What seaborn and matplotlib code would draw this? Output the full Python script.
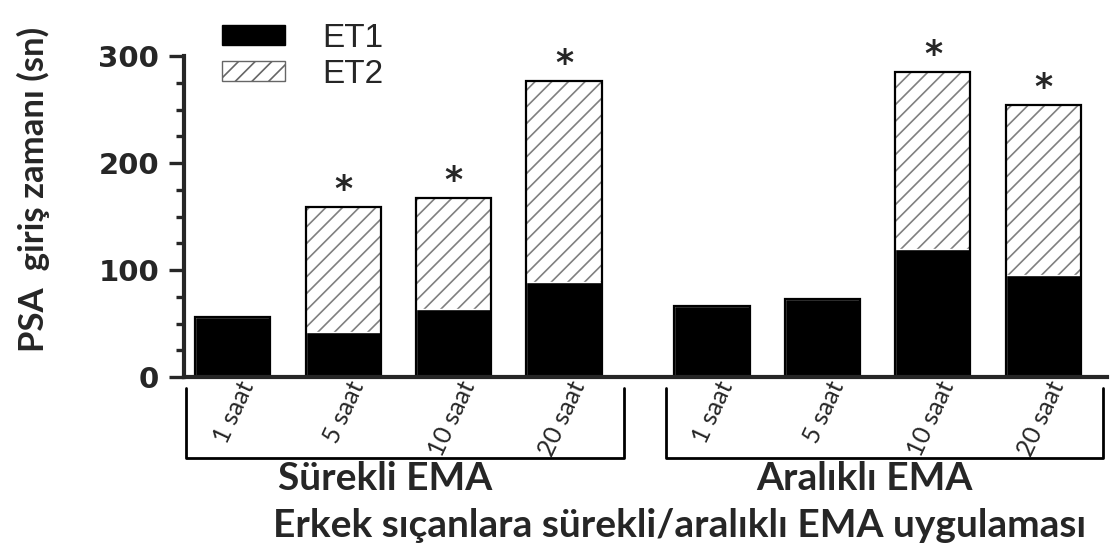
import pandas as pd
import matplotlib
matplotlib.use('Agg')
import matplotlib.pyplot as plt
from matplotlib.patches import Patch
from matplotlib.ticker import MultipleLocator
from matplotlib.transforms import blended_transform_factory, ScaledTranslation
import seaborn as sns

# values (seconds)
groups = ['Sürekli EMA', 'Aralıklı EMA']
durations = ['1 saat', '5 saat', '10 saat', '20 saat']
et1 = [56, 42, 64, 89, 66, 73, 120, 95]
total = [56, 159, 167, 277, 66, 73, 285, 254]
signif = [False, True, True, True, False, False, True, True]

group_gap = 4.34
pos = [g * group_gap + i for g in range(len(groups)) for i in range(len(durations))]
df = pd.DataFrame({'pos': pos, 'et1': et1, 'total': total,
                   'label': durations * len(groups)})

sns.set_style('ticks')
plt.rcParams['font.family'] = ['Lato', 'DejaVu Sans']
plt.rcParams['hatch.linewidth'] = 1.2

fig = plt.figure(figsize=(11.2, 5.5), dpi=100)
ax = fig.add_axes([0.1643, 0.3145, 0.824, 0.5836])

bw = 0.68
# ET2 part: hatched bar up to the total height
sns.barplot(data=df, x='pos', y='total', native_scale=True, width=bw, color='white',
            edgecolor='0.5', hatch='//', linewidth=0, errorbar=None, ax=ax)
# ET1 part: solid black
sns.barplot(data=df, x='pos', y='et1', native_scale=True, width=bw, color='black',
            saturation=1, errorbar=None, ax=ax)
# black outline round the whole bar
sns.barplot(data=df, x='pos', y='total', native_scale=True, width=bw, fill=False,
            color='black', linewidth=1.6, errorbar=None, ax=ax)

for p, t, s in zip(pos, total, signif):
    if s:
        ax.annotate('*', (p, t), xytext=(0, 0), textcoords='offset points',
                    ha='center', va='bottom', fontsize=25, fontweight='bold',
                    family='DejaVu Sans')

ax.set_xlim(-0.44, 7.915)
ax.set_ylim(0, 300)
ax.set_yticks([0, 100, 200, 300])
ax.yaxis.set_minor_locator(MultipleLocator(25))
ax.set_yticklabels(['0', '100', '200', '300'], fontsize=21, fontweight='bold',
                   family='DejaVu Sans')
ax.tick_params(axis='y', which='major', length=11, width=2.4, pad=7)
ax.tick_params(axis='y', which='minor', length=6, width=2.4)
ax.set_xticks(pos)
ax.set_xticklabels(df['label'], rotation=65, rotation_mode='anchor',
                   ha='right', va='center', fontsize=18)
ax.tick_params(axis='x', length=0, pad=4)
shift = ScaledTranslation(0.15, 0, fig.dpi_scale_trans)
for lab in ax.get_xticklabels():
    lab.set_transform(lab.get_transform() + shift)
ax.set_xlabel('')
ax.set_ylabel('')
sns.despine(ax=ax)
for side in ['left', 'bottom']:
    ax.spines[side].set_linewidth(3)

# brackets under each group
trans = blended_transform_factory(ax.transData, ax.transAxes)
for g, name in enumerate(groups):
    x0 = pos[g * len(durations)] - 0.42
    x1 = pos[(g + 1) * len(durations) - 1] + 0.54
    ax.plot([x0, x0, x1, x1], [-0.034, -0.252, -0.252, -0.034], color='black',
            lw=2, transform=trans, clip_on=False)
    ax.text((x0 + x1) / 2 - 0.18, -0.315, name, transform=trans, ha='center',
            va='center', fontsize=28, fontweight='bold')

fig.text(0.607, 0.045, 'Erkek sıçanlara sürekli/aralıklı EMA uygulaması',
         ha='center', va='center', fontsize=28, fontweight='bold')
fig.text(0.03, 0.655, 'PSA  giriş zamanı (sn)', rotation=90, ha='center', va='center',
         fontsize=25, fontweight='bold')

handles = [Patch(facecolor='black', edgecolor='black'),
           Patch(facecolor='white', edgecolor='0.4', hatch='//')]
fig.legend(handles, ['ET1', 'ET2'], loc='upper left', bbox_to_anchor=(0.198, 0.958),
           frameon=False, handlelength=1.9, handleheight=0.55,
           handletextpad=1.1, labelspacing=0.15, borderpad=0, borderaxespad=0,
           prop={'family': 'Liberation Sans', 'size': 24})

fig.savefig('out.png', dpi=100)
